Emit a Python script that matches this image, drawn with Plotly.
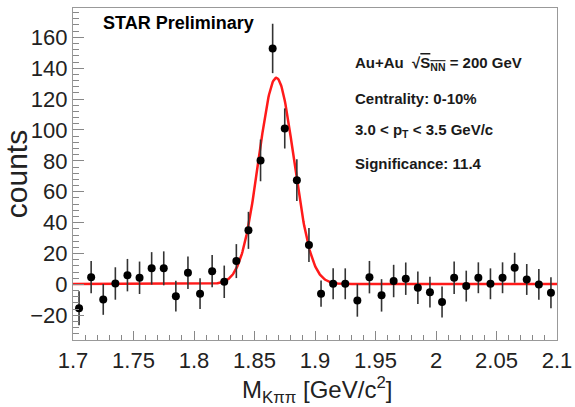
import numpy as np
import plotly.graph_objects as go

# ---- data ----
mass_bins = [1.705, 1.715, 1.725, 1.735, 1.745, 1.755, 1.765, 1.775, 1.785, 1.795,
             1.805, 1.815, 1.825, 1.835, 1.845, 1.855, 1.865, 1.875, 1.885, 1.895,
             1.905, 1.915, 1.925, 1.935, 1.945, 1.955, 1.965, 1.975, 1.985, 1.995,
             2.005, 2.015, 2.025, 2.035, 2.045, 2.055, 2.065, 2.075, 2.085, 2.095]
counts = [-15.5, 4.7, -9.7, 0.6, 6.0, 4.3, 10.4, 10.4, -7.6, 7.6,
          -6.0, 8.6, 1.7, 15.1, 35.0, 80.3, 152.8, 101.0, 67.5, 25.5,
          -6.0, 0.4, 0.4, -10.4, 4.7, -7.1, 2.2, 3.7, -2.2, -5.0,
          -11.4, 4.3, -1.1, 4.3, 0.4, 4.3, 10.8, 3.2, 0.0, -5.4]
count_errors = [11.0, 10.5, 10.0, 10.5, 10.5, 10.5, 10.5, 11.0, 10.0, 10.5,
                10.0, 10.5, 10.5, 11.0, 12.0, 13.5, 16.0, 13.0, 13.5, 11.0,
                8.5, 10.0, 10.0, 10.5, 10.5, 10.5, 10.5, 10.5, 10.5, 10.0,
                10.0, 10.5, 10.0, 10.0, 10.0, 10.0, 9.7, 10.0, 10.0, 10.0]

# Gaussian + constant fit parameters
fit_amplitude = 133.5
fit_mean = 1.868
fit_sigma = 0.0145
fit_background = 0.3

x_ticks = [1.7, 1.75, 1.8, 1.85, 1.9, 1.95, 2.0, 2.05, 2.1]
x_tick_text = ["1.7", "1.75", "1.8", "1.85", "1.9", "1.95", "2", "2.05", "2.1"]
y_ticks = [-20, 0, 20, 40, 60, 80, 100, 120, 140, 160]
y_tick_text = ["\u221220", "0", "20", "40", "60", "80", "100", "120", "140", "160"]

x_title = "M<sub>K\u03c0\u03c0</sub> [GeV/c<sup>2</sup>]"
y_title = "counts"
info_lines = [
    "<b>Au+Au  \u221a<span style=\"text-decoration:overline\">S<sub>NN</sub></span> = 200 GeV</b>",
    "<b>Centrality: 0-10%</b>",
    "<b>3.0 < p<sub>T</sub> < 3.5 GeV/c</b>",
    "<b>Significance: 11.4</b>",
]

FONT = "Liberation Sans, Arial, Helvetica, sans-serif"

fit_x = np.linspace(1.7, 2.1, 801)
fit_y = fit_background + fit_amplitude * np.exp(-0.5 * ((fit_x - fit_mean) / fit_sigma) ** 2)

fig = go.Figure()
fig.add_trace(go.Scatter(
    x=fit_x, y=fit_y, mode="lines",
    line=dict(color="#ff1a1a", width=2.5), hoverinfo="skip", showlegend=False))
fig.add_trace(go.Scatter(
    x=mass_bins, y=counts, mode="markers",
    marker=dict(color="black", size=8, symbol="circle"),
    error_y=dict(type="data", array=count_errors, color="#333333", thickness=1.6, width=0),
    showlegend=False))

fig.update_layout(
    width=575, height=407,
    margin=dict(l=73, r=18, t=8, b=67),
    paper_bgcolor="white", plot_bgcolor="white",
    font=dict(family=FONT, color="black"),
)
fig.update_xaxes(
    range=[1.7, 2.1], tickvals=x_ticks, ticktext=x_tick_text, automargin=False,
    ticks="inside", ticklen=9, tickcolor="#888888", tickwidth=1,
    minor=dict(dtick=0.01, ticks="inside", ticklen=5, tickcolor="#888888"),
    showline=True, linecolor="#999999", linewidth=1.2, mirror=True,
    showgrid=False, zeroline=False,
    tickfont=dict(size=22, family=FONT, color="#222222"),
)
fig.update_yaxes(
    range=[-36, 179], tickvals=y_ticks, ticktext=y_tick_text, automargin=False,
    ticks="inside", ticklen=11, tickcolor="#888888", tickwidth=1,
    minor=dict(dtick=4, ticks="inside", ticklen=6, tickcolor="#888888"),
    showline=True, linecolor="#999999", linewidth=1.2, mirror=True,
    showgrid=False, zeroline=False,
    tickfont=dict(size=22, family=FONT, color="#222222"),
    title=dict(text=y_title, font=dict(size=30, family=FONT, color="#222222"), standoff=0),
)

# x-axis title placed as a paper annotation below the tick labels
fig.add_annotation(
    xref="paper", yref="paper", x=0.504, y=-0.151, xanchor="center", yanchor="middle",
    text=x_title, showarrow=False,
    font=dict(size=24, family=FONT, color="#222222"))

fig.add_annotation(
    xref="paper", yref="paper", x=0.058, y=0.955, xanchor="left", yanchor="middle",
    text="<b>STAR Preliminary</b>", showarrow=False,
    font=dict(size=18, family=FONT, color="black"))

info_y = [0.834, 0.728, 0.630, 0.531]
for txt, yy in zip(info_lines, info_y):
    fig.add_annotation(
        xref="paper", yref="paper", x=0.578, y=yy, xanchor="left", yanchor="middle",
        text=txt, showarrow=False,
        font=dict(size=15, family=FONT, color="#1a1a1a"))

fig.write_html("out.html")
